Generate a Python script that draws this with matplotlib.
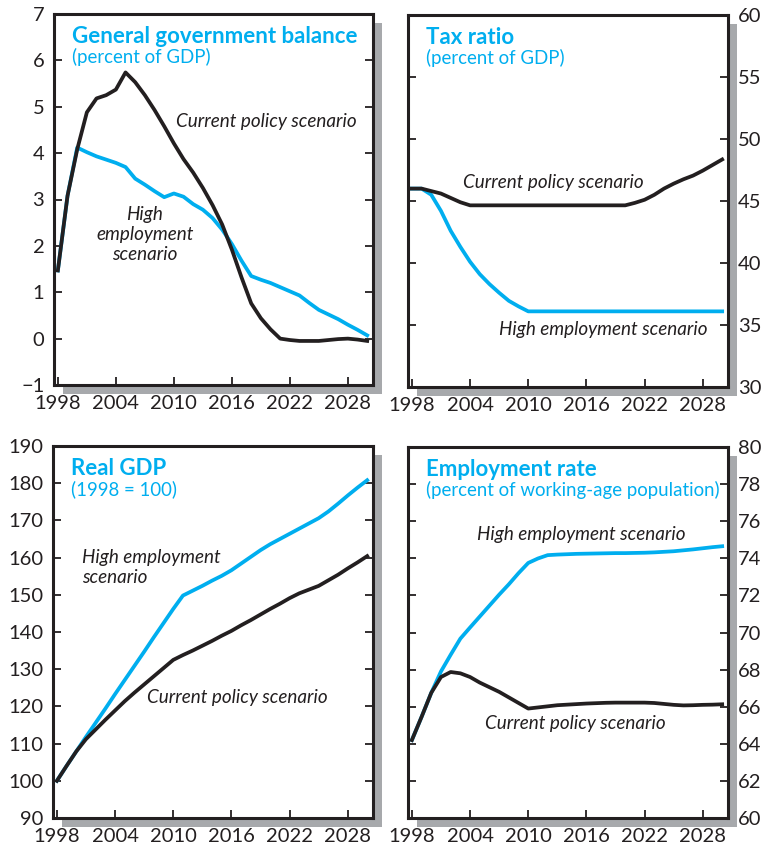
import numpy as np
import matplotlib
matplotlib.use("Agg")
import matplotlib.pyplot as plt
from matplotlib.patches import Rectangle

years = np.arange(1998, 2031)

# general government balance, percent of GDP
balance_current = [1.47, 3.08, 4.08, 4.88, 5.18, 5.25, 5.37, 5.74, 5.53, 5.25, 4.93, 4.58, 4.21,
                   3.87, 3.58, 3.25, 2.88, 2.46, 1.92, 1.32, 0.76, 0.44, 0.20, 0.00, -0.03, -0.05,
                   -0.05, -0.05, -0.03, -0.01, 0.00, -0.02, -0.05]
balance_high = [1.47, 3.08, 4.12, 4.02, 3.93, 3.86, 3.79, 3.70, 3.45, 3.32, 3.18, 3.05, 3.13,
                3.06, 2.90, 2.78, 2.60, 2.35, 2.04, 1.68, 1.35, 1.27, 1.20, 1.11, 1.02, 0.93,
                0.77, 0.62, 0.52, 0.42, 0.30, 0.19, 0.07]

# tax ratio, percent of GDP
tax_current = [46.0, 46.0, 45.8, 45.6, 45.25, 44.9] + [44.65] * 17 + \
              [44.85, 45.1, 45.5, 46.0, 46.4, 46.75, 47.05, 47.45, 47.9, 48.35]
tax_high = [46.0, 46.0, 45.5, 44.2, 42.6, 41.3, 40.1, 39.1, 38.3, 37.6, 36.95, 36.5] + [36.1] * 21

# real GDP, 1998 = 100
gdp_current = [100.0, 104.0, 107.9, 111.2, 113.8, 116.4, 118.9, 121.4, 123.7, 125.9, 128.1,
               130.3, 132.5, 133.8, 135.0, 136.3, 137.6, 139.0, 140.3, 141.8, 143.2, 144.7,
               146.2, 147.6, 149.1, 150.4, 151.4, 152.4, 153.9, 155.4, 157.1, 158.7, 160.4]
gdp_high = [100.0, 104.0, 107.9, 111.8, 115.6, 119.4, 123.3, 127.1, 130.9, 134.7, 138.6, 142.4,
            146.2, 149.8, 151.1, 152.4, 153.8, 155.1, 156.6, 158.4, 160.2, 162.0, 163.6, 165.0,
            166.4, 167.8, 169.2, 170.6, 172.4, 174.5, 176.7, 178.8, 180.8]

# employment rate, percent of working-age population
emp_current = [64.2, 65.45, 66.75, 67.6, 67.87, 67.8, 67.6, 67.3, 67.05, 66.8, 66.5, 66.2, 65.9,
               65.96, 66.02, 66.08, 66.11, 66.14, 66.17, 66.19, 66.21, 66.22, 66.22, 66.22,
               66.22, 66.2, 66.15, 66.1, 66.07, 66.08, 66.1, 66.11, 66.13]
emp_high = [64.2, 65.45, 66.75, 67.9, 68.8, 69.67, 70.27, 70.86, 71.45, 72.04, 72.6, 73.2, 73.75,
            73.99, 74.17, 74.2, 74.22, 74.24, 74.25, 74.26, 74.27, 74.28, 74.28, 74.29, 74.3,
            74.32, 74.35, 74.38, 74.43, 74.48, 74.54, 74.6, 74.65]

BLUE = '#00AEEF'
BLACK = '#231F20'
SHADOW = '#A7A9AC'
NOTE = 13.6

plt.rcParams['font.family'] = ['Lato', 'DejaVu Sans']

W, H = 775, 851
fig = plt.figure(figsize=(W / 100, H / 100), dpi=100)


def panel(x0, y0, x1, y1, right=False):
    # box given in pixels from the top-left corner, with a grey drop shadow
    off = 9
    fig.patches.append(Rectangle(((x0 + off) / W, 1 - (y1 + off) / H), (x1 - x0) / W, (y1 - y0) / H,
                                 transform=fig.transFigure, facecolor=SHADOW, edgecolor='none',
                                 zorder=-1))
    ax = fig.add_axes([x0 / W, 1 - y1 / H, (x1 - x0) / W, (y1 - y0) / H])
    ax.set_xlim(1997.6, 2030.6)
    ax.set_xticks(range(1998, 2029, 6))
    for s in ax.spines.values():
        s.set_linewidth(2.2)
        s.set_color(BLACK)
    ax.tick_params(axis='both', direction='in', length=6, width=1.3, labelsize=14.5,
                   colors=BLACK, pad=7)
    ax.tick_params(axis='y', left=True, right=True, labelleft=not right, labelright=right)
    ax.tick_params(axis='x', top=False)
    return ax


def titles(ax, title, sub):
    ax.text(0.056, 0.922, title, transform=ax.transAxes, color=BLUE, fontsize=16,
            fontweight='bold', va='baseline')
    ax.text(0.056, 0.868, sub, transform=ax.transAxes, color=BLUE, fontsize=13.4, va='baseline')


# top left
ax1 = panel(54, 14, 373, 385)
ax1.plot(years, balance_high, color=BLUE, lw=2.7)
ax1.plot(years, balance_current, color=BLACK, lw=2.7)
ax1.set_ylim(-1, 7)
ax1.set_yticks(range(-1, 8))
titles(ax1, 'General government balance', '(percent of GDP)')
ax1.text(2019.6, 4.56, 'Current policy scenario', style='italic', fontsize=NOTE, ha='center',
         va='baseline', color=BLACK)
ax1.text(2007.0, 1.69, 'High\nemployment\nscenario', style='italic', fontsize=NOTE, ha='center',
         va='baseline', color=BLACK, linespacing=1.22)

# top right
ax2 = panel(408, 15, 728, 387, right=True)
ax2.plot(years, tax_high, color=BLUE, lw=2.7)
ax2.plot(years, tax_current, color=BLACK, lw=2.7)
ax2.set_ylim(30, 60)
ax2.set_yticks(range(30, 61, 5))
titles(ax2, 'Tax ratio', '(percent of GDP)')
ax2.text(2012.6, 46.05, 'Current policy scenario', style='italic', fontsize=NOTE, ha='center',
         va='baseline', color=BLACK)
ax2.text(2017.7, 34.2, 'High employment scenario', style='italic', fontsize=NOTE, ha='center',
         va='baseline', color=BLACK)

# bottom left
ax3 = panel(53, 446, 373, 818)
ax3.plot(years, gdp_high, color=BLUE, lw=2.7)
ax3.plot(years, gdp_current, color=BLACK, lw=2.7)
ax3.set_ylim(90, 190)
ax3.set_yticks(range(90, 191, 10))
titles(ax3, 'Real GDP', '(1998 = 100)')
ax3.text(2000.6, 153.1, 'High employment\nscenario', style='italic', fontsize=NOTE, ha='left',
         va='baseline', color=BLACK, linespacing=1.22)
ax3.text(2016.6, 120.8, 'Current policy scenario', style='italic', fontsize=NOTE, ha='center',
         va='baseline', color=BLACK)

# bottom right
ax4 = panel(408, 447, 728, 818, right=True)
ax4.plot(years, emp_high, color=BLUE, lw=2.7)
ax4.plot(years, emp_current, color=BLACK, lw=2.7)
ax4.set_ylim(60, 80)
ax4.set_yticks(range(60, 81, 2))
titles(ax4, 'Employment rate', '(percent of working-age population)')
ax4.text(2015.5, 75.0, 'High employment scenario', style='italic', fontsize=NOTE, ha='center',
         va='baseline', color=BLACK)
ax4.text(2014.9, 64.82, 'Current policy scenario', style='italic', fontsize=NOTE, ha='center',
         va='baseline', color=BLACK)

fig.savefig('out.png', dpi=100)
